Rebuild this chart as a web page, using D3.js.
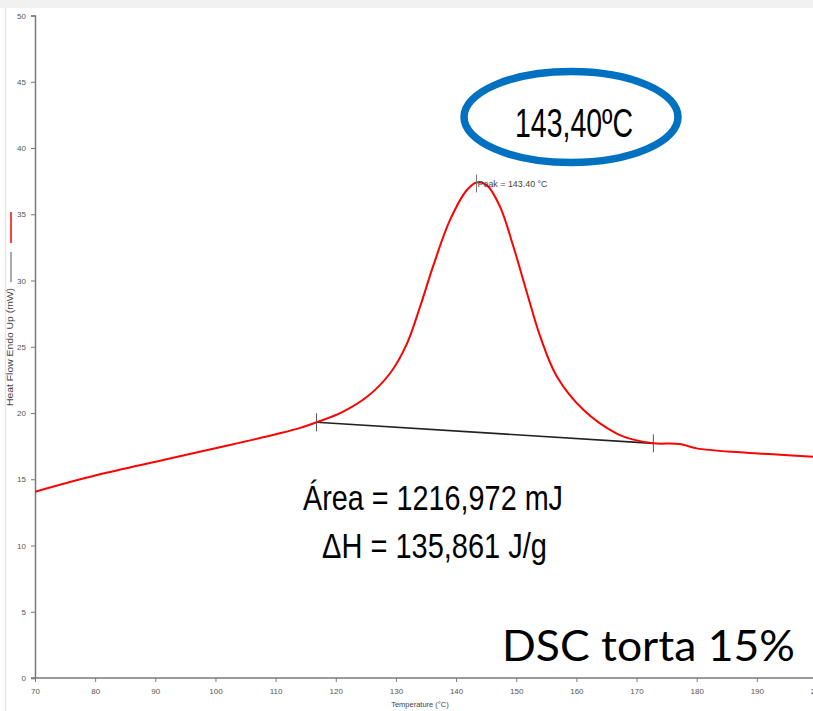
<!DOCTYPE html>
<html>
<head>
<meta charset="utf-8">
<script src="https://cdn.jsdelivr.net/npm/d3@7"></script>
<style>
  html, body { margin: 0; padding: 0; background: #fff; }
  svg { display: block; }
</style>
</head>
<body>
<svg id="chart" width="813" height="711"></svg>
<script>
// DSC heat-flow curve (Temperature °C, Heat Flow mW)
const temperature = [70, 80.3, 91.3, 102.4, 110.7, 114.1, 116.8, 121.0, 125.2, 129.0, 131.8, 134.0, 136.2, 139.0, 141.8, 143.4, 145.1, 147.3, 149.5, 151.8, 154.0, 156.7, 161.2, 166.7, 169.5, 172.8, 177.2, 180.0, 187.2, 192.7, 200];
const heatFlow    = [14.06, 15.32, 16.45, 17.58, 18.47, 18.88, 19.30, 20.05, 21.22, 22.98, 25.20, 28.00, 31.10, 34.57, 36.83, 37.40, 37.20, 35.58, 32.60, 29.04, 25.76, 22.80, 20.23, 18.45, 17.99, 17.71, 17.66, 17.33, 17.03, 16.88, 16.68];

// integration baseline limits
const baseT = [116.8, 172.8];
const baseV = [19.30, 17.71];

// peak
const peakT = 143.40;
const peakV = 37.40;

const xTicks = [70, 80, 90, 100, 110, 120, 130, 140, 150, 160, 170, 180, 190, 200];
const yTicks = [0, 5, 10, 15, 20, 25, 30, 35, 40, 45, 50];

const svg = d3.select("#chart");

const x = d3.scaleLinear().domain([70, 200]).range([35, 817]);
const y = d3.scaleLinear().domain([0, 50]).range([678, 15.5]);

// window frame remnants
svg.append("rect").attr("x", 0).attr("y", 0).attr("width", 813).attr("height", 8).attr("fill", "#f1f1f1");
svg.append("line").attr("x1", 5.5).attr("x2", 5.5).attr("y1", 8).attr("y2", 711)
  .attr("stroke", "#e6e6e6").attr("stroke-width", 1.5);

// axes
const axisColor = "#7a7a7a";
const tickFont = "8px 'Liberation Sans', Arial, sans-serif";

const xAxis = svg.append("g").attr("transform", "translate(0,678)")
  .call(d3.axisBottom(x).tickValues(xTicks).tickSize(4).tickPadding(6).tickFormat(d3.format("d")));
const yAxis = svg.append("g").attr("transform", "translate(35,0)")
  .call(d3.axisLeft(y).tickValues(yTicks).tickSize(4).tickPadding(5).tickFormat(d3.format("d")));

[xAxis, yAxis].forEach(g => {
  g.select(".domain").attr("stroke", axisColor).attr("stroke-width", 1.5);
  g.selectAll(".tick line").attr("stroke", axisColor);
  g.selectAll(".tick text").attr("fill", "#555").style("font", tickFont);
});
xAxis.select(".domain").attr("d", "M31,0H813");

// axis titles
svg.append("text").attr("x", 420).attr("y", 707).attr("text-anchor", "middle")
  .attr("fill", "#444").style("font", "7.5px 'Liberation Sans', Arial, sans-serif")
  .text("Temperature (°C)");

svg.append("text").attr("transform", "translate(13,347) rotate(-90)").attr("text-anchor", "middle")
  .attr("fill", "#444").style("font", "9px 'Liberation Sans', Arial, sans-serif")
  .attr("textLength", 118).attr("lengthAdjust", "spacingAndGlyphs")
  .text("Heat Flow Endo Up (mW)");

// legend keys beside the rotated title
svg.append("line").attr("x1", 11).attr("x2", 11).attr("y1", 212).attr("y2", 243)
  .attr("stroke", "#ff0000").attr("stroke-width", 1.5);
svg.append("line").attr("x1", 11).attr("x2", 11).attr("y1", 252).attr("y2", 282)
  .attr("stroke", "#555").attr("stroke-width", 1);

// clip curve to the visible area
svg.append("clipPath").attr("id", "plotClip").append("rect")
  .attr("x", 35).attr("y", 8).attr("width", 813 - 35).attr("height", 678 - 8);

const pts = temperature.map((t, i) => [t, heatFlow[i]]);
const line = d3.line().x(d => x(d[0])).y(d => y(d[1])).curve(d3.curveCatmullRom.alpha(0.5));

// baseline
svg.append("path")
  .datum(baseT.map((t, i) => [t, baseV[i]]))
  .attr("d", d3.line().x(d => x(d[0])).y(d => y(d[1])))
  .attr("fill", "none").attr("stroke", "#222").attr("stroke-width", 1.6);

// heat-flow curve
svg.append("path").datum(pts).attr("clip-path", "url(#plotClip)")
  .attr("d", line).attr("fill", "none").attr("stroke", "#ff0000").attr("stroke-width", 2);

// limit markers
baseT.forEach((t, i) => {
  svg.append("line").attr("x1", x(t)).attr("x2", x(t))
    .attr("y1", y(baseV[i]) - 9).attr("y2", y(baseV[i]) + 9)
    .attr("stroke", "#555").attr("stroke-width", 1);
});

// peak marker and label
svg.append("line").attr("x1", x(peakT)).attr("x2", x(peakT))
  .attr("y1", y(peakV) - 8).attr("y2", y(peakV) + 10)
  .attr("stroke", "#777").attr("stroke-width", 1);
svg.append("text").attr("x", x(peakT) + 1).attr("y", y(peakV) + 5)
  .attr("fill", "#444").style("font", "9px 'Liberation Sans', Arial, sans-serif")
  .attr("textLength", 70).attr("lengthAdjust", "spacingAndGlyphs")
  .text("Peak = 143.40 °C");

// highlighted peak temperature
svg.append("ellipse").attr("cx", 571).attr("cy", 117).attr("rx", 107).attr("ry", 45.5)
  .attr("fill", "none").attr("stroke", "#0070c0").attr("stroke-width", 7.5);
svg.append("text").attr("x", 515).attr("y", 137)
  .attr("fill", "#000").style("font", "41px 'Liberation Sans', Arial, sans-serif")
  .attr("textLength", 118).attr("lengthAdjust", "spacingAndGlyphs")
  .text("143,40ºC");

// enthalpy annotation
svg.append("text").attr("x", 303).attr("y", 510)
  .attr("fill", "#000").style("font", "35px 'Liberation Sans', Arial, sans-serif")
  .attr("textLength", 260).attr("lengthAdjust", "spacingAndGlyphs")
  .text("Área = 1216,972 mJ");
svg.append("text").attr("x", 322).attr("y", 558)
  .attr("fill", "#000").style("font", "35px 'Liberation Sans', Arial, sans-serif")
  .attr("textLength", 225).attr("lengthAdjust", "spacingAndGlyphs")
  .text("ΔH = 135,861 J/g");

// title
svg.append("text").attr("x", 502).attr("y", 661)
  .attr("fill", "#000").style("font", "400 42px Lato, 'DejaVu Sans', sans-serif")
  .attr("textLength", 293).attr("lengthAdjust", "spacingAndGlyphs")
  .text("DSC torta 15%");
</script>
</body>
</html>
